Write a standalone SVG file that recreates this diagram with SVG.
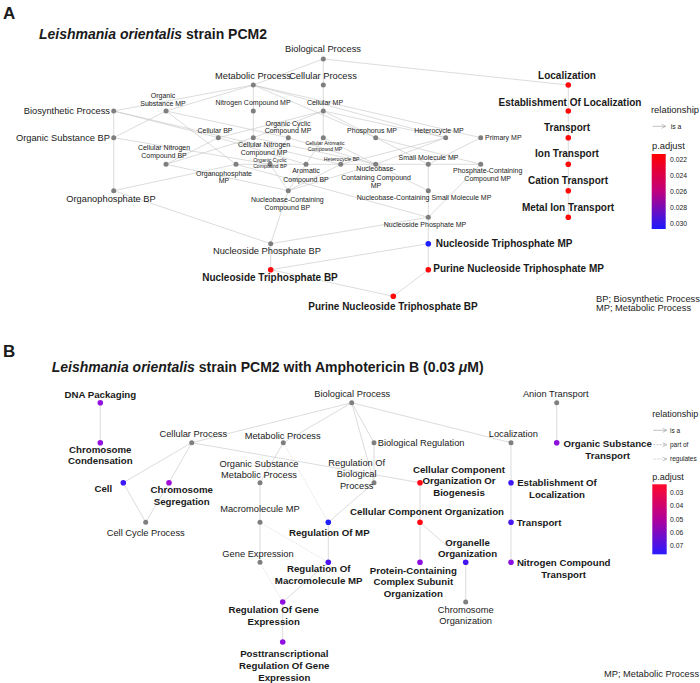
<svg xmlns="http://www.w3.org/2000/svg" width="700" height="683" viewBox="0 0 700 683">
<defs>
<style>
text{font-family:"Liberation Sans",Arial,sans-serif;fill:#1a1a1a}
.e line{stroke:#c4c4c4;stroke-width:0.6;fill:none}
.e line.d{stroke-dasharray:1,1.2}
.g{fill:#7f7f7f}
.L{font-size:9.3px}
.M{font-size:7px}
.S{font-size:5.2px}
.b{font-size:10px;font-weight:bold}
.bb{font-size:9.7px;font-weight:bold}
.c{text-anchor:middle}
.r{text-anchor:end}
.t{font-size:14px;font-weight:bold}
.lg{font-size:9.4px}
.ls{font-size:6.8px}
</style>
<linearGradient id="gA" x1="0" y1="0" x2="0" y2="1"><stop offset="0" stop-color="#ff0000"/><stop offset="0.5" stop-color="#c0007f"/><stop offset="1" stop-color="#1a1aff"/></linearGradient>
<linearGradient id="gB" x1="0" y1="0" x2="0" y2="1"><stop offset="0" stop-color="#ff0a2a"/><stop offset="0.5" stop-color="#b0009a"/><stop offset="1" stop-color="#2a1aff"/></linearGradient>
<marker id="ar" markerWidth="6" markerHeight="6" refX="5" refY="3" orient="auto" markerUnits="userSpaceOnUse"><path d="M1,1 L5,3 L1,5" fill="none" stroke="#999" stroke-width="0.6"/></marker>
</defs>
<rect width="700" height="683" fill="#fff"/>
<text x="3" y="19" style="font-size:17px;font-weight:bold">A</text>
<text x="39" y="39" class="t"><tspan font-style="italic">Leishmania orientalis</tspan> strain PCM2</text>
<g class="e" id="edgesA">
<line x1="323.3" y1="59" x2="253.3" y2="85"/>
<line x1="323.3" y1="59" x2="323.3" y2="85"/>
<line x1="323.3" y1="59" x2="568.3" y2="85"/>
<line x1="253.3" y1="85" x2="113.7" y2="111"/>
<line x1="253.3" y1="85" x2="166" y2="111"/>
<line x1="253.3" y1="85" x2="253.3" y2="111"/>
<line x1="253.3" y1="85" x2="375.7" y2="137.7"/>
<line x1="253.3" y1="85" x2="480.7" y2="137.7"/>
<line x1="253.3" y1="85" x2="445.7" y2="137.7"/>
<line x1="323.3" y1="85" x2="323.3" y2="111"/>
<line x1="113.7" y1="111" x2="113.7" y2="137.7"/>
<line x1="113.7" y1="111" x2="218.3" y2="137.7"/>
<line x1="113.7" y1="111" x2="340.7" y2="164.3"/>
<line x1="166" y1="111" x2="113.7" y2="137.7"/>
<line x1="166" y1="111" x2="288.3" y2="137.7"/>
<line x1="166" y1="111" x2="236" y2="164.3"/>
<line x1="253.3" y1="111" x2="253.3" y2="137.7"/>
<line x1="323.3" y1="111" x2="218.3" y2="137.7"/>
<line x1="323.3" y1="111" x2="253.3" y2="137.7"/>
<line x1="323.3" y1="111" x2="323.3" y2="137.7"/>
<line x1="323.3" y1="111" x2="428.3" y2="164.3"/>
<line x1="323.3" y1="111" x2="445.7" y2="137.7"/>
<line x1="113.7" y1="137.7" x2="113.7" y2="190.7"/>
<line x1="113.7" y1="137.7" x2="270" y2="164.3"/>
<line x1="218.3" y1="137.7" x2="166" y2="164.3"/>
<line x1="218.3" y1="137.7" x2="306" y2="164.3"/>
<line x1="253.3" y1="137.7" x2="166" y2="164.3"/>
<line x1="253.3" y1="137.7" x2="375.7" y2="164.3"/>
<line x1="288.3" y1="137.7" x2="270" y2="164.3"/>
<line x1="288.3" y1="137.7" x2="375.7" y2="164.3"/>
<line x1="323.3" y1="137.7" x2="306" y2="164.3"/>
<line x1="323.3" y1="137.7" x2="375.7" y2="164.3"/>
<line x1="375.7" y1="137.7" x2="480.7" y2="164.3"/>
<line x1="445.7" y1="137.7" x2="340.7" y2="164.3"/>
<line x1="445.7" y1="137.7" x2="375.7" y2="164.3"/>
<line x1="480.7" y1="137.7" x2="428.3" y2="164.3"/>
<line x1="480.7" y1="164.3" x2="236" y2="164.3"/>
<line x1="166" y1="164.3" x2="288.3" y2="190.7"/>
<line x1="270" y1="164.3" x2="288.3" y2="190.7"/>
<line x1="306" y1="164.3" x2="288.3" y2="190.7"/>
<line x1="340.7" y1="164.3" x2="288.3" y2="190.7"/>
<line x1="236" y1="164.3" x2="113.7" y2="190.7"/>
<line x1="236" y1="164.3" x2="428.3" y2="217.3"/>
<line x1="375.7" y1="164.3" x2="428.3" y2="190.7"/>
<line x1="375.7" y1="164.3" x2="288.3" y2="190.7"/>
<line x1="428.3" y1="164.3" x2="428.3" y2="190.7"/>
<line x1="480.7" y1="164.3" x2="428.3" y2="217.3"/>
<line x1="428.3" y1="190.7" x2="428.3" y2="217.3"/>
<line x1="113.7" y1="190.7" x2="270.7" y2="243.7"/>
<line x1="288.3" y1="190.7" x2="270.7" y2="243.7"/>
<line x1="428.3" y1="217.3" x2="270.7" y2="243.7"/>
<line x1="428.3" y1="217.3" x2="428.3" y2="243.7"/>
<line x1="270.7" y1="243.7" x2="270.7" y2="269.7"/>
<line x1="428.3" y1="243.7" x2="270.7" y2="269.7"/>
<line x1="428.3" y1="243.7" x2="428.3" y2="269.7"/>
<line x1="270.7" y1="269.7" x2="393.3" y2="296.3"/>
<line x1="428.3" y1="269.7" x2="393.3" y2="296.3"/>
<line x1="568.3" y1="85" x2="568.3" y2="217.3"/>
</g>
<g id="nBP"><circle cx="323.3" cy="59" r="2.5" class="g"/><text x="323" y="52" class="L c">Biological Process</text></g>
<g id="nMetP"><circle cx="253.3" cy="85" r="2.5" class="g"/><text x="253" y="79" class="L c">Metabolic Process</text></g>
<g id="nCellP"><circle cx="323.3" cy="85" r="2.5" class="g"/><text x="323" y="79" class="L c">Cellular Process</text></g>
<g id="nBiosyn"><circle cx="113.7" cy="111" r="2.5" class="g"/><text x="110" y="114.3" class="L r">Biosynthetic Process</text></g>
<g id="nOSBP"><circle cx="113.7" cy="137.7" r="2.5" class="g"/><text x="110" y="141" class="L r">Organic Substance BP</text></g>
<g id="nOSMP"><circle cx="166" cy="111" r="2.5" class="g"/><text x="163" y="98" class="M c">Organic</text><text x="163" y="106.3" class="M c">Substance MP</text></g>
<g id="nNCMP"><circle cx="253.3" cy="111" r="2.5" class="g"/><text x="253" y="105" class="M c">Nitrogen Compound MP</text></g>
<g id="nCellMP"><circle cx="323.3" cy="111" r="2.5" class="g"/><text x="325" y="105" class="M c">Cellular MP</text></g>
<g id="nCellBP"><circle cx="218.3" cy="137.7" r="2.5" class="g"/><text x="215" y="133.3" class="M c">Cellular BP</text></g>
<g id="nCNCMP"><circle cx="253.3" cy="137.7" r="2.5" class="g"/><text x="264" y="146.6" class="M c">Cellular Nitrogen</text><text x="264" y="154.6" class="M c">Compound MP</text></g>
<g id="nOCCMP"><circle cx="288.3" cy="137.7" r="2.5" class="g"/><text x="288" y="125.6" class="M c">Organic Cyclic</text><text x="288" y="133.3" class="M c">Compound MP</text></g>
<g id="nCACMP"><circle cx="323.3" cy="137.7" r="2.5" class="g"/><text x="325" y="145" class="S c">Cellular Aromatic</text><text x="325" y="150.8" class="S c">Compound MP</text></g>
<g id="nPhosMP"><circle cx="375.7" cy="137.7" r="2.5" class="g"/><text x="372" y="133.3" class="M c">Phosphorus MP</text></g>
<g id="nHetMP"><circle cx="445.7" cy="137.7" r="2.5" class="g"/><text x="439" y="133.3" class="M c">Heterocycle MP</text></g>
<g id="nPrimMP"><circle cx="480.7" cy="137.7" r="2.5" class="g"/><text x="485" y="140.2" class="M">Primary MP</text></g>
<g id="nCNCBP"><circle cx="166" cy="164.3" r="2.5" class="g"/><text x="164" y="150" class="M c">Cellular Nitrogen</text><text x="164" y="158.3" class="M c">Compound BP</text></g>
<g id="nOPMP"><circle cx="236" cy="164.3" r="2.5" class="g"/><text x="224" y="175.6" class="M c">Organophosphate</text><text x="224" y="183" class="M c">MP</text></g>
<g id="nOCCBP"><circle cx="270" cy="164.3" r="2.5" class="g"/><text x="270" y="161.8" class="S c">Organic Cyclic</text><text x="270" y="167.8" class="S c">Compound BP</text></g>
<g id="nACBP"><circle cx="306" cy="164.3" r="2.5" class="g"/><text x="306" y="173.4" class="M c">Aromatic</text><text x="306" y="181.6" class="M c">Compound BP</text></g>
<g id="nHetBP"><circle cx="340.7" cy="164.3" r="2.5" class="g"/><text x="341.7" y="160.8" class="S c">Heterocycle BP</text></g>
<g id="nNCCMP"><circle cx="375.7" cy="164.3" r="2.5" class="g"/><text x="376" y="171.4" class="M c">Nucleobase-</text><text x="376" y="179.6" class="M c">Containing Compound</text><text x="376" y="187.6" class="M c">MP</text></g>
<g id="nSMMP"><circle cx="428.3" cy="164.3" r="2.5" class="g"/><text x="428.5" y="160" class="M c">Small Molecule MP</text></g>
<g id="nPCCMP"><circle cx="480.7" cy="164.3" r="2.5" class="g"/><text x="487.7" y="173" class="M c">Phosphate-Containing</text><text x="487.7" y="181.3" class="M c">Compound MP</text></g>
<g id="nOPBP"><circle cx="113.7" cy="190.7" r="2.5" class="g"/><text x="111" y="202.3" class="L c">Organophosphate BP</text></g>
<g id="nNCCBP"><circle cx="288.3" cy="190.7" r="2.5" class="g"/><text x="287.3" y="202.4" class="M c">Nucleobase-Containing</text><text x="287.3" y="210.4" class="M c">Compound BP</text></g>
<g id="nNCSMMP"><circle cx="428.3" cy="190.7" r="2.5" class="g"/><text x="424" y="200.1" class="M c">Nucleobase-Containing Small Molecule MP</text></g>
<g id="nNPMP"><circle cx="428.3" cy="217.3" r="2.5" class="g"/><text x="425" y="226.7" class="M c">Nucleoside Phosphate MP</text></g>
<g id="nNPBP"><circle cx="270.7" cy="243.7" r="2.5" class="g"/><text x="267" y="254" class="L c">Nucleoside Phosphate BP</text></g>
<g id="nNTBP"><circle cx="270.7" cy="269.7" r="2.8" fill="#ff0a0a"/><text x="270" y="281.2" class="b c">Nucleoside Triphosphate BP</text></g>
<g id="nNTMP"><circle cx="428.3" cy="243.7" r="2.8" fill="#1f1fff"/><text x="435.7" y="247" class="b">Nucleoside Triphosphate MP</text></g>
<g id="nPNTMP"><circle cx="428.3" cy="269.7" r="2.8" fill="#ff0a0a"/><text x="433.3" y="272.3" class="b">Purine Nucleoside Triphosphate MP</text></g>
<g id="nPNTBP"><circle cx="393.3" cy="296.3" r="2.8" fill="#ff0a0a"/><text x="393" y="310.2" class="b c">Purine Nucleoside Triphosphate BP</text></g>
<g id="nLoc"><circle cx="568.3" cy="85" r="2.8" fill="#ff0a0a"/><text x="567" y="79.3" class="b c">Localization</text></g>
<g id="nEoL"><circle cx="568.3" cy="111" r="2.8" fill="#ff0a0a"/><text x="570" y="105.8" class="b c">Establishment Of Localization</text></g>
<g id="nTr"><circle cx="568.3" cy="137.7" r="2.8" fill="#ff0a0a"/><text x="567" y="130.9" class="b c">Transport</text></g>
<g id="nIT"><circle cx="568.3" cy="164.3" r="2.8" fill="#ff0a0a"/><text x="567" y="156.6" class="b c">Ion Transport</text></g>
<g id="nCT"><circle cx="568.3" cy="190.7" r="2.8" fill="#ff0a0a"/><text x="568" y="184.2" class="b c">Cation Transport</text></g>
<g id="nMIT"><circle cx="568.3" cy="217.3" r="2.8" fill="#ff0a0a"/><text x="568" y="211.2" class="b c">Metal Ion Transport</text></g>
<g id="legendA">
<text x="651" y="112.7" class="lg">relationship</text>
<line x1="652.7" y1="126.3" x2="665.7" y2="126.3" stroke="#999" stroke-width="0.6" marker-end="url(#ar)"/>
<text x="670.7" y="128.7" class="ls">is a</text>
<text x="652" y="149" class="lg">p.adjust</text>
<rect x="651.7" y="154" width="14" height="75" fill="url(#gA)"/>
<g class="ls"><text x="670" y="161.5">0.022</text><text x="670" y="177.5">0.024</text><text x="670" y="194">0.026</text><text x="670" y="210">0.028</text><text x="670" y="225.5">0.030</text></g>
<text x="596" y="301.5" class="L">BP; Biosynthetic Process</text>
<text x="596" y="310.5" class="L">MP; Metabolic Process</text>
</g>
<text x="3" y="357" style="font-size:17px;font-weight:bold">B</text>
<text x="51.7" y="371.5" class="t"><tspan font-style="italic">Leishmania orientalis</tspan> strain PCM2 with Amphotericin B (0.03 <tspan font-style="italic">μ</tspan>M)</text>
<g class="e" id="edgesB">
<line x1="100.3" y1="402.7" x2="100.3" y2="442.7"/>
<line x1="351.7" y1="402.7" x2="191.7" y2="442.7"/>
<line x1="351.7" y1="402.7" x2="283.3" y2="442.7"/>
<line x1="351.7" y1="402.7" x2="374" y2="442.7"/>
<line x1="351.7" y1="402.7" x2="374" y2="482.7"/>
<line x1="351.7" y1="402.7" x2="511" y2="442.7"/>
<line x1="191.7" y1="442.7" x2="123.3" y2="482.7"/>
<line x1="191.7" y1="442.7" x2="169" y2="482.7"/>
<line x1="191.7" y1="442.7" x2="420" y2="482.7"/>
<line x1="123.3" y1="482.7" x2="145.7" y2="522.3"/>
<line x1="169" y1="482.7" x2="145.7" y2="522.3"/>
<line x1="283.3" y1="442.7" x2="260" y2="482.7"/>
<line x1="283.3" y1="442.7" x2="328.3" y2="522.3" class="d"/>
<line x1="374" y1="442.7" x2="374" y2="482.7"/>
<line x1="374" y1="482.7" x2="328.3" y2="522.3"/>
<line x1="260" y1="482.7" x2="260" y2="522.3"/>
<line x1="260" y1="522.3" x2="260" y2="562.3"/>
<line x1="260" y1="522.3" x2="328.3" y2="562.3" class="d"/>
<line x1="328.3" y1="522.3" x2="328.3" y2="562.3"/>
<line x1="260" y1="562.3" x2="282.7" y2="602" class="d"/>
<line x1="328.3" y1="562.3" x2="282.7" y2="602"/>
<line x1="282.7" y1="602" x2="282.7" y2="642"/>
<line x1="420" y1="482.7" x2="420" y2="522.3"/>
<line x1="420" y1="522.3" x2="420" y2="562.3"/>
<line x1="420" y1="522.3" x2="465.7" y2="562.3"/>
<line x1="465.7" y1="562.3" x2="465.7" y2="602"/>
<line x1="511" y1="442.7" x2="511" y2="562.3"/>
<line x1="556.7" y1="402.7" x2="556.7" y2="442.7"/>
</g>
<g id="bDNA"><circle cx="100.3" cy="402.7" r="2.8" fill="#9412e0"/><text x="100.3" y="398.3" class="bb c">DNA Packaging</text></g>
<g id="bCC"><circle cx="100.3" cy="442.7" r="2.8" fill="#9412e0"/><text x="100.3" y="452.5" class="bb c">Chromosome</text><text x="100.3" y="464.2" class="bb c">Condensation</text></g>
<g id="bCellP"><circle cx="191.7" cy="442.7" r="2.5" class="g"/><text x="193.3" y="437" class="L c">Cellular Process</text></g>
<g id="bCell"><circle cx="123.3" cy="482.7" r="2.8" fill="#3a18f8"/><text x="103.3" y="491.8" class="bb c">Cell</text></g>
<g id="bCS"><circle cx="169" cy="482.7" r="2.8" fill="#a010d8"/><text x="181.7" y="492.8" class="bb c">Chromosome</text><text x="181.7" y="505.2" class="bb c">Segregation</text></g>
<g id="bCCP"><circle cx="145.7" cy="522.3" r="2.5" class="g"/><text x="145.7" y="535.5" class="L c">Cell Cycle Process</text></g>
<g id="bBP"><circle cx="351.7" cy="402.7" r="2.5" class="g"/><text x="352.3" y="396.6" class="L c">Biological Process</text></g>
<g id="bMetP"><circle cx="283.3" cy="442.7" r="2.5" class="g"/><text x="282.7" y="439.3" class="L c">Metabolic Process</text></g>
<g id="bBR"><circle cx="374" cy="442.7" r="2.5" class="g"/><text x="377.7" y="446" class="L">Biological Regulation</text></g>
<g id="bLoc"><circle cx="511" cy="442.7" r="2.5" class="g"/><text x="513.3" y="437" class="L c">Localization</text></g>
<g id="bAT"><circle cx="556.7" cy="402.7" r="2.5" class="g"/><text x="555.7" y="396.6" class="L c">Anion Transport</text></g>
<g id="bOST"><circle cx="556.7" cy="442.7" r="2.8" fill="#8c10dd"/><text x="607.7" y="447.2" class="bb c">Organic Substance</text><text x="607.7" y="459.2" class="bb c">Transport</text></g>
<g id="bOSMP"><circle cx="260" cy="482.7" r="2.5" class="g"/><text x="259" y="467.3" class="L c">Organic Substance</text><text x="259" y="478.3" class="L c">Metabolic Process</text></g>
<g id="bRBP"><circle cx="374" cy="482.7" r="2.5" class="g"/><text x="356.7" y="466" class="L c">Regulation Of</text><text x="356.7" y="477.3" class="L c">Biological</text><text x="356.7" y="488.6" class="L c">Process</text></g>
<g id="bCCOB"><circle cx="420" cy="482.7" r="2.8" fill="#ff0a14"/><text x="459" y="472.5" class="bb c">Cellular Component</text><text x="459" y="484.2" class="bb c">Organization Or</text><text x="459" y="496.2" class="bb c">Biogenesis</text></g>
<g id="bEoL"><circle cx="511" cy="482.7" r="2.8" fill="#3d18f5"/><text x="557" y="486.2" class="bb c">Establishment Of</text><text x="557" y="497.8" class="bb c">Localization</text></g>
<g id="bMMP"><circle cx="260" cy="522.3" r="2.5" class="g"/><text x="260" y="512.3" class="L c">Macromolecule MP</text></g>
<g id="bRMP"><circle cx="328.3" cy="522.3" r="2.8" fill="#2020ff"/><text x="329.3" y="535.8" class="bb c">Regulation Of MP</text></g>
<g id="bCCO"><circle cx="420" cy="522.3" r="2.8" fill="#ff0a14"/><text x="427" y="514.5" class="bb c">Cellular Component Organization</text></g>
<g id="bTr"><circle cx="511" cy="522.3" r="2.8" fill="#4a18f0"/><text x="516.7" y="526.2" class="bb">Transport</text></g>
<g id="bGE"><circle cx="260" cy="562.3" r="2.5" class="g"/><text x="258" y="556.6" class="L c">Gene Expression</text></g>
<g id="bRMMP"><circle cx="328.3" cy="562.3" r="2.8" fill="#4c15f0"/><text x="318.7" y="572.2" class="bb c">Regulation Of</text><text x="318.7" y="584.2" class="bb c">Macromolecule MP</text></g>
<g id="bOO"><circle cx="465.7" cy="562.3" r="2.8" fill="#4515f0"/><text x="467.5" y="545.5" class="bb c">Organelle</text><text x="467.5" y="556.8" class="bb c">Organization</text></g>
<g id="bPCC"><circle cx="420" cy="562.3" r="2.8" fill="#8c10dd"/><text x="413.3" y="573.5" class="bb c">Protein-Containing</text><text x="413.3" y="585.2" class="bb c">Complex Subunit</text><text x="413.3" y="597.2" class="bb c">Organization</text></g>
<g id="bNCT"><circle cx="511" cy="562.3" r="2.8" fill="#8a12e0"/><text x="563.7" y="565.8" class="bb c">Nitrogen Compound</text><text x="563.7" y="577.8" class="bb c">Transport</text></g>
<g id="bRGE"><circle cx="282.7" cy="602" r="2.8" fill="#9010e0"/><text x="273.7" y="612.8" class="bb c">Regulation Of Gene</text><text x="273.7" y="624.8" class="bb c">Expression</text></g>
<g id="bChO"><circle cx="465.7" cy="602" r="2.5" class="g"/><text x="465.7" y="613" class="L c">Chromosome</text><text x="465.7" y="624" class="L c">Organization</text></g>
<g id="bPT"><circle cx="282.7" cy="642" r="2.8" fill="#9010e0"/><text x="284.3" y="657.2" class="bb c">Posttranscriptional</text><text x="284.3" y="668.8" class="bb c">Regulation Of Gene</text><text x="284.3" y="680.5" class="bb c">Expression</text></g>
<g id="legendB">
<text x="652.3" y="417.2" style="font-size:9px">relationship</text>
<line x1="653.3" y1="430.3" x2="666.7" y2="430.3" stroke="#999" stroke-width="0.6" marker-end="url(#ar)"/>
<text x="670" y="432.6" style="font-size:6.5px">is a</text>
<line x1="653.3" y1="444.7" x2="666.7" y2="444.7" stroke="#999" stroke-width="0.6" stroke-dasharray="2,1.2" marker-end="url(#ar)"/>
<text x="670" y="447" style="font-size:6.5px">part of</text>
<line x1="653.3" y1="459" x2="666.7" y2="459" stroke="#999" stroke-width="0.6" stroke-dasharray="0.8,1" marker-end="url(#ar)"/>
<text x="670" y="461.3" style="font-size:6.5px">regulates</text>
<text x="652.3" y="480" style="font-size:9px">p.adjust</text>
<rect x="652.3" y="484.3" width="14.4" height="70" fill="url(#gB)"/>
<g style="font-size:6.8px"><text x="670" y="495">0.03</text><text x="670" y="507.6">0.04</text><text x="670" y="521.6">0.05</text><text x="670" y="535">0.06</text><text x="670" y="548">0.07</text></g>
<text x="604" y="677" class="L">MP; Metabolic Process</text>
</g>
</svg>
